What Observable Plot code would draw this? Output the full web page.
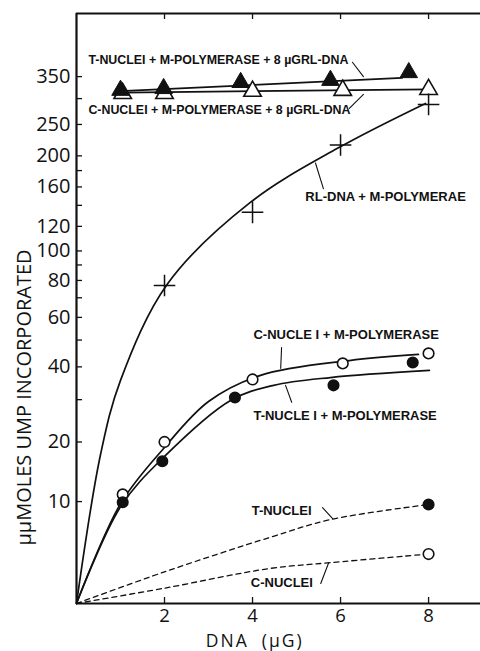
<!DOCTYPE html>
<html><head><meta charset="utf-8">
<script src="https://cdn.jsdelivr.net/npm/d3@7"></script>
<script src="https://cdn.jsdelivr.net/npm/@observablehq/plot@0.6"></script>
<style>body{margin:0;background:#fff} svg{display:block;background:#fff}</style>
</head><body><div id="chart"></div>
<script>
// ---- data ----
const triTX = [1.0, 1.98, 3.73, 5.77, 7.55];
const triTY = [318, 322, 336, 341, 360];
const triCX = [1.05, 2.0, 4.0, 6.05, 8.0];
const triCY = [311, 311, 316, 318, 320];
const lineTriTX = [1.0, 7.4];
const lineTriTY = [316, 347];
const lineTriCX = [1.05, 8.0];
const lineTriCY = [313, 320];

const rlX = [2, 4, 6, 8];
const rlY = [77, 133, 216, 288];
const rlCurveX = [0, 0.55, 1.0, 2.07, 3.95, 5.93, 7.93];
const rlCurveY = [0, 17.7, 35.6, 78, 143, 211, 290];

const cmX = [1.05, 2.0, 4.0, 6.05, 8.0];
const cmY = [11.0, 20, 35.9, 41.2, 44.8];
const tmX = [1.05, 1.95, 3.6, 5.84, 7.64];
const tmY = [9.9, 16.3, 30.6, 34.1, 41.5];
const cmCurveX = [0, 1.0, 1.98, 3.0, 4.18, 6.2, 7.77];
const cmCurveY = [0, 9.7, 18.7, 29.5, 37.2, 42.2, 44.4];
const tmCurveX = [0, 1.0, 2.0, 3.5, 4.48, 5.77, 8.02];
const tmCurveY = [0, 9.3, 17.2, 29.8, 34.1, 36.5, 38.8];

const tnX = [8.0], tnY = [9.6];
const cnX = [8.0], cnY = [4.0];
const tnCurveX = [0, 2, 4.41, 5.77, 8];
const tnCurveY = [0, 2.4, 5.7, 7.7, 9.6];
const cnCurveX = [0, 2, 4.41, 5.77, 8];
const cnCurveY = [0, 1.1, 2.7, 3.2, 4.0];

const topLabelText = [
  "T-NUCLEI + M-POLYMERASE + 8 µGRL-DNA",
  "C-NUCLEI + M-POLYMERASE + 8 µGRL-DNA"
];
const topLabelX = [0.27, 0.27];
const topLabelY = [392, 276];
const labelText = [
  "RL-DNA + M-POLYMERAE",
  "C-NUCLE I + M-POLYMERASE",
  "T-NUCLE I + M-POLYMERASE",
  "T-NUCLEI",
  "C-NUCLEI"
];
const labelX = [5.2, 4.02, 4.02, 3.98, 3.96];
const labelY = [149, 52, 25.9, 8.8, 1.54];
const arrowX1 = [6.27, 6.2, 5.61, 4.66, 4.89, 5.59, 5.55];
const arrowY1 = [387, 280, 158, 47, 29.3, 9.2, 1.46];
const arrowX2 = [6.52, 6.52, 5.43, 4.64, 4.75, 5.82, 5.73];
const arrowY2 = [350, 309, 190, 39.5, 34.1, 7.8, 3.2];
const arrowBend = [30, -30, -25, 25, 25, 30, -30];

const yTickLabels = [10, 20, 40, 60, 80, 100, 120, 160, 200, 250, 350];
const yTickAll = [10, 20, 30, 40, 50, 60, 70, 80, 90, 100, 120, 140, 160, 180, 200, 250, 300, 350];
const xTickLabels = [2, 4, 6, 8];
const yTitle = "µµMOLES UMP INCORPORATED";
const xTitle = "DNA  (µG)";

const xDomain = [0, 9.18];
const yDomain = [0, 543];

// ---- helpers ----
const zip = (xs, ys) => xs.map((x, i) => ({x, y: ys[i]}));
const topLabels = topLabelText.map((t, i) => ({t, x: topLabelX[i], y: topLabelY[i]}));
const labels = labelText.map((t, i) => ({t, x: labelX[i], y: labelY[i]}));
const arrows = arrowX1.map((x1, i) => ({x1, y1: arrowY1[i], x2: arrowX2[i], y2: arrowY2[i], bend: arrowBend[i]}));

const W = 480, H = 651, mL = 76, mR = 0, mT = 13, mB = 48;
const fw = W - mL - mR, fh = H - mT - mB;
const font = "'Liberation Sans', Arial, sans-serif";
const tickFont = "'Open Sans', 'DejaVu Sans', sans-serif";

const lineOpts = {x: "x", y: "y", stroke: "#111", strokeWidth: 1.7, curve: "catmull-rom"};
const dashOpts = {...lineOpts, strokeWidth: 1.3, strokeDasharray: "5,4"};

const chart = Plot.plot({
  width: W, height: H,
  marginLeft: mL, marginRight: mR, marginTop: mT, marginBottom: mB,
  style: {fontFamily: tickFont, background: "#fff", color: "#111"},
  x: {domain: xDomain, axis: null},
  y: {type: "symlog", constant: 10, domain: yDomain, axis: null},
  marks: [
    Plot.axisY(yTickLabels, {tickSize: 0, tickPadding: 6, fontSize: 20, tickFormat: d => d, label: null, fill: "#111"}),
    Plot.axisX(xTickLabels, {tickSize: 0, tickPadding: 5, fontSize: 18.5, tickFormat: d => d, label: null, fill: "#111"}),
    Plot.tickY(yTickAll, {y: d => d, insetRight: fw - 6, strokeWidth: 1.3, stroke: "#111"}),
    Plot.tickX(xTickLabels, {x: d => d, insetTop: fh - 6, strokeWidth: 1.3, stroke: "#111"}),
    Plot.tickX(xTickLabels, {x: d => d, insetBottom: fh - 6, strokeWidth: 1.3, stroke: "#111"}),
    Plot.ruleX([xDomain[0]], {strokeWidth: 2.2, stroke: "#111"}),
    Plot.ruleY([yDomain[0]], {strokeWidth: 2.2, stroke: "#111"}),
    Plot.ruleY([yDomain[1]], {strokeWidth: 2, stroke: "#111"}),

    Plot.line(zip(lineTriTX, lineTriTY), {...lineOpts, curve: "linear"}),
    Plot.line(zip(lineTriCX, lineTriCY), {...lineOpts, curve: "linear"}),
    Plot.line(zip(rlCurveX, rlCurveY), lineOpts),
    Plot.line(zip(cmCurveX, cmCurveY), lineOpts),
    Plot.line(zip(tmCurveX, tmCurveY), lineOpts),
    Plot.line(zip(tnCurveX, tnCurveY), dashOpts),
    Plot.line(zip(cnCurveX, cnCurveY), dashOpts),

    Plot.dot(zip(triCX, triCY), {x: "x", y: "y", symbol: "triangle", r: 6.5, fill: "#fff", stroke: "#111", strokeWidth: 1.6}),
    Plot.dot(zip(triTX, triTY), {x: "x", y: "y", symbol: "triangle", r: 6.5, fill: "#111", stroke: "#111", strokeWidth: 1}),
    Plot.dot(zip(rlX, rlY), {x: "x", y: "y", symbol: "plus", r: 7, stroke: "#111", strokeWidth: 1.5}),
    Plot.dot(zip(cmX, cmY), {x: "x", y: "y", r: 5.3, fill: "#fff", stroke: "#111", strokeWidth: 1.6}),
    Plot.dot(zip(tmX, tmY), {x: "x", y: "y", r: 5.3, fill: "#111", stroke: "#111"}),
    Plot.dot(zip(tnX, tnY), {x: "x", y: "y", r: 5.3, fill: "#111", stroke: "#111"}),
    Plot.dot(zip(cnX, cnY), {x: "x", y: "y", r: 5.3, fill: "#fff", stroke: "#111", strokeWidth: 1.6}),

    Plot.text(topLabels, {x: "x", y: "y", text: "t", textAnchor: "start", fontSize: 12.4, fontWeight: "bold", fontFamily: font, fill: "#111"}),
    Plot.text(labels, {x: "x", y: "y", text: "t", textAnchor: "start", fontSize: 13, fontWeight: "bold", fontFamily: font, fill: "#111"}),
    Plot.arrow(arrows, {x1: "x1", y1: "y1", x2: "x2", y2: "y2", bend: d => d.bend, stroke: "#111", strokeWidth: 1.1, headLength: 5}),

    Plot.text([yTitle], {x: -1.18, y: 30.6, text: d => d, rotate: -90, fontSize: 20, fill: "#111", fontFamily: tickFont}),
    Plot.text([xTitle], {x: 4.05, y: 0, dy: 37.5, text: d => d, fontSize: 17.5, fill: "#111", fontFamily: tickFont, fontWeight: 400})
  ]
});
d3.select(chart).selectAll("text").filter(function() { return this.textContent === xTitle; }).style("letter-spacing", "2px");
document.getElementById("chart").appendChild(chart);
</script></body></html>
